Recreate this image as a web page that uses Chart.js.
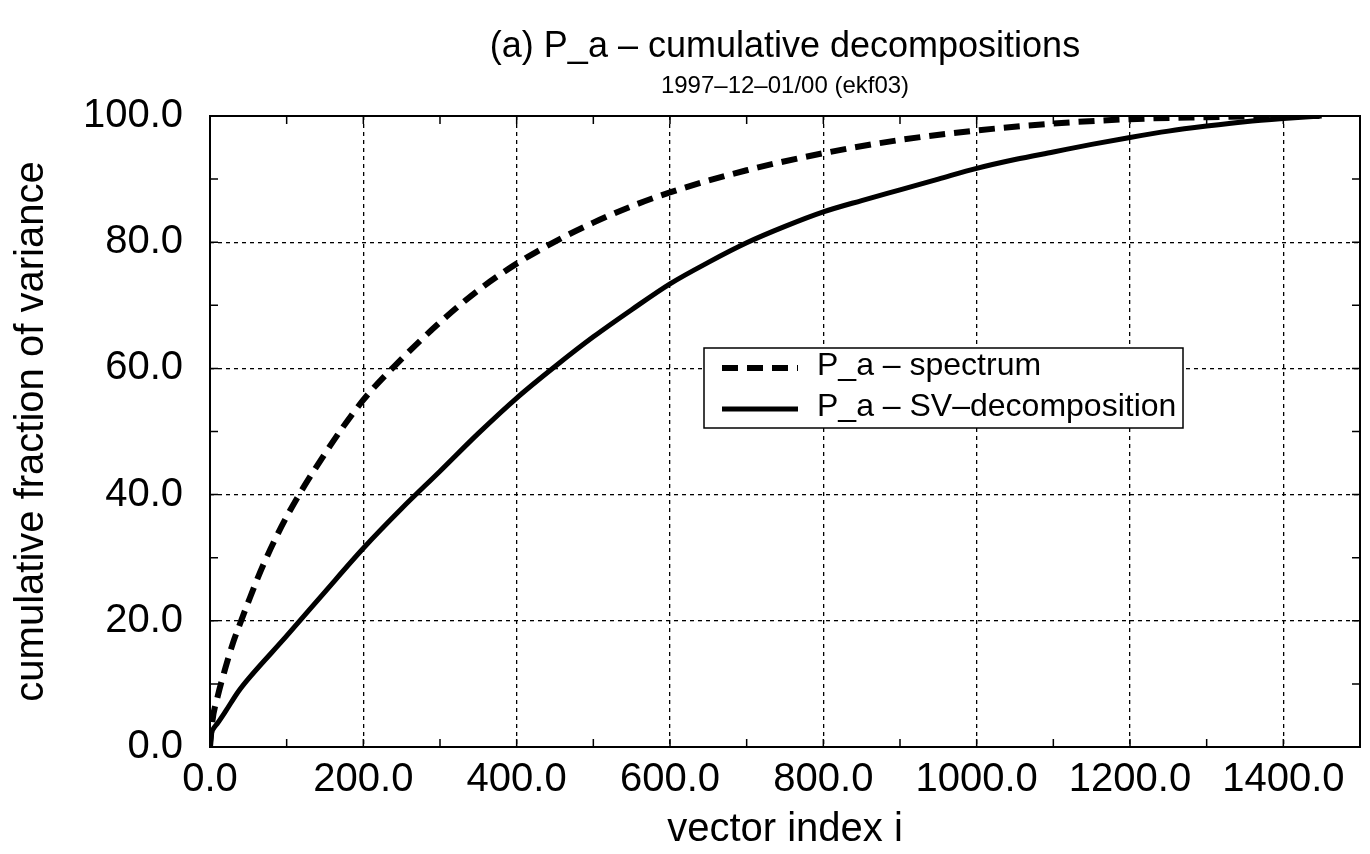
<!DOCTYPE html>
<html>
<head>
<meta charset="utf-8">
<script src="https://cdn.jsdelivr.net/npm/chart.js@4.4.1/dist/chart.umd.min.js"></script>
<style>
  html,body{margin:0;padding:0;background:#fff}
  #wrap{width:1370px;height:854px}
</style>
</head>
<body>
<div id="wrap"><canvas id="c" width="1370" height="854"></canvas></div>
<script>
// ── Data ───────────────────────────────────────────────────────
const specX = [0, 3, 10, 20, 30, 40, 50, 70, 100, 150, 200, 250, 300, 350, 400, 450, 500, 550, 600, 700, 800, 900, 1000, 1100, 1200, 1300, 1400, 1450];
const specY = [0, 4, 8, 12.5, 16.5, 19.8, 23, 29, 36.5, 46.5, 55, 61.5, 67.3, 72.4, 76.6, 80.1, 83.1, 85.7, 87.9, 91.4, 94.1, 96.2, 97.7, 98.8, 99.5, 99.8, 100, 100];
const svdX  = [0, 2, 5, 10, 20, 37, 50, 100, 150, 200, 250, 300, 350, 400, 450, 500, 550, 600, 650, 700, 750, 800, 850, 900, 950, 1000, 1050, 1100, 1150, 1200, 1250, 1300, 1350, 1400, 1450];
const svdY  = [0, 2.2, 3, 3.8, 5.6, 8.8, 10.8, 17.6, 24.6, 31.5, 37.8, 43.7, 49.7, 55.3, 60.3, 65, 69.3, 73.4, 76.8, 79.9, 82.5, 84.8, 86.6, 88.3, 90, 91.7, 93.1, 94.3, 95.5, 96.6, 97.6, 98.4, 99.1, 99.6, 100];
const seriesLabels = ['P_a \u2013 spectrum', 'P_a \u2013 SV\u2013decomposition'];
const titleText    = '(a) P_a \u2013 cumulative decompositions';
const subtitleText = '1997\u201312\u201301/00 (ekf03)';
const xTitle = 'vector index i';
const yTitle = 'cumulative fraction of variance';

const FONT = '"Liberation Sans", Arial, Helvetica, sans-serif';
const INK  = '#000';
const pts  = (xs, ys) => xs.map((x, i) => ({ x, y: ys[i] }));

// ── Frame, inward ticks and boxed legend ──────────────────────
const frame = {
  id: 'frame',
  afterLayout(chart) {
    // centre title + subtitle over the plot area, not the canvas
    const a = chart.chartArea;
    chart.boxes.filter(b => b.position === 'top').forEach(b => { b.left = a.left; b.right = a.right; b.width = a.right - a.left; });
  },
  beforeDatasetsDraw(chart) {
    const { ctx, chartArea: a, scales: { x, y } } = chart;
    ctx.save();
    ctx.strokeStyle = INK; ctx.lineWidth = 2; ctx.setLineDash([]);
    ctx.strokeRect(a.left, a.top, a.right - a.left, a.bottom - a.top);
    ctx.lineWidth = 1.5;
    ctx.beginPath();
    for (let v = 100; v < 1500; v += 100) {
      const px = x.getPixelForValue(v);
      ctx.moveTo(px, a.bottom); ctx.lineTo(px, a.bottom - 8);
      ctx.moveTo(px, a.top);    ctx.lineTo(px, a.top + 8);
    }
    for (let v = 10; v < 100; v += 10) {
      const py = y.getPixelForValue(v);
      ctx.moveTo(a.left, py);  ctx.lineTo(a.left + 8, py);
      ctx.moveTo(a.right, py); ctx.lineTo(a.right - 8, py);
    }
    ctx.stroke();
    ctx.restore();
  },
  afterDatasetsDraw(chart) {
    const { ctx, chartArea: a } = chart;
    const bx = a.left + 494, by = a.top + 232, bw = 479, bh = 80;
    ctx.save();
    ctx.fillStyle = '#fff'; ctx.fillRect(bx, by, bw, bh);
    ctx.strokeStyle = INK; ctx.lineWidth = 1.5; ctx.setLineDash([]);
    ctx.strokeRect(bx, by, bw, bh);
    ctx.font = '32px ' + FONT; ctx.fillStyle = INK; ctx.textBaseline = 'middle';
    chart.data.datasets.forEach((ds, i) => {
      const ly = by + 20 + i * 41;
      ctx.beginPath();
      ctx.lineWidth = ds.borderWidth; ctx.setLineDash(ds.borderDash || []);
      ctx.moveTo(bx + 18, ly); ctx.lineTo(bx + 94, ly); ctx.stroke();
      ctx.setLineDash([]);
      ctx.fillText(ds.label, bx + 113, ly - 2);
    });
    ctx.restore();
  }
};

// ── Chart ─────────────────────────────────────────────────────
new Chart(document.getElementById('c'), {
  type: 'line',
  data: { datasets: [
    { label: seriesLabels[0], data: pts(specX, specY), borderColor: INK, borderWidth: 6, borderDash: [16, 9], pointRadius: 0, cubicInterpolationMode: 'monotone', fill: false },
    { label: seriesLabels[1], data: pts(svdX, svdY),   borderColor: INK, borderWidth: 5, pointRadius: 0, cubicInterpolationMode: 'monotone', fill: false },
  ]},
  options: {
    responsive: false, animation: false, devicePixelRatio: 1,
    layout: { padding: { left: 0, right: 10, top: 0, bottom: 0 } },
    plugins: {
      legend: { display: false }, tooltip: { enabled: false },
      title:    { display: true, text: titleText,    color: INK, font: { family: FONT, size: 36, weight: 'normal', lineHeight: 1.2 }, padding: { top: 25, bottom: 0 } },
      subtitle: { display: true, text: subtitleText, color: INK, font: { family: FONT, size: 24, weight: 'normal', lineHeight: 1.2 }, padding: { top: 4, bottom: 15 } },
    },
    scales: {
      x: { type: 'linear', min: 0, max: 1500,
           afterFit: s => { s.height = 107; },
           grid: { color: INK, lineWidth: 1.3, drawTicks: false },
           border: { display: false, dash: [4, 4] },
           ticks: { stepSize: 200, includeBounds: false, padding: 9, color: INK, maxRotation: 0, font: { family: FONT, size: 40, lineHeight: 1.2 }, callback: v => v.toFixed(1) },
           title: { display: true, text: xTitle, color: INK, font: { family: FONT, size: 40, lineHeight: 1.2 }, padding: { top: 0, bottom: 0 } } },
      y: { min: 0, max: 100,
           afterFit: s => { s.width = 210; },
           grid: { color: INK, lineWidth: 1.3, drawTicks: false },
           border: { display: false, dash: [4, 4] },
           ticks: { stepSize: 20, padding: 27, color: INK, font: { family: FONT, size: 40, lineHeight: 1.2 }, callback: v => v.toFixed(1) },
           title: { display: true, text: yTitle, color: INK, font: { family: FONT, size: 40, lineHeight: 1.2 }, padding: { top: 8, bottom: 0 } } },
    },
  },
  plugins: [frame],
});
</script>
</body>
</html>
